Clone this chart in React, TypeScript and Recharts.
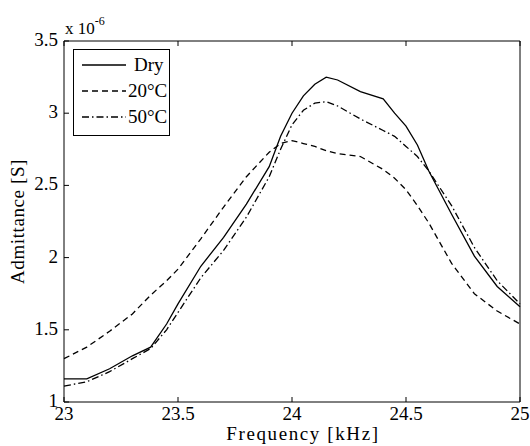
import { LineChart, Line, XAxis, YAxis } from "recharts";

const freq = [23, 23.1, 23.2, 23.3, 23.38, 23.45, 23.5, 23.6, 23.7, 23.8, 23.9, 23.95, 24, 24.05, 24.1, 24.15, 24.2, 24.3, 24.4, 24.45, 24.5, 24.55, 24.6, 24.7, 24.8, 24.9, 25];
const dry = [1.16, 1.16, 1.23, 1.32, 1.38, 1.54, 1.68, 1.94, 2.14, 2.37, 2.63, 2.84, 3.0, 3.12, 3.2, 3.25, 3.23, 3.15, 3.1, 3.0, 2.91, 2.78, 2.6, 2.3, 2.01, 1.8, 1.66];
const c20 = [1.3, 1.38, 1.49, 1.61, 1.74, 1.84, 1.92, 2.13, 2.35, 2.56, 2.73, 2.79, 2.81, 2.79, 2.77, 2.74, 2.72, 2.7, 2.61, 2.55, 2.47, 2.36, 2.24, 1.96, 1.75, 1.63, 1.54];
const c50 = [1.11, 1.14, 1.21, 1.3, 1.37, 1.5, 1.62, 1.86, 2.05, 2.28, 2.56, 2.75, 2.92, 3.02, 3.07, 3.08, 3.05, 2.96, 2.88, 2.84, 2.77, 2.7, 2.6, 2.36, 2.07, 1.84, 1.68];

const xTicks = [23, 23.5, 24, 24.5, 25];
const yTicks = [1, 1.5, 2, 2.5, 3, 3.5];

const series = [
  { key: "dry", name: "Dry", dash: undefined },
  { key: "c20", name: "20°C", dash: "6 4" },
  { key: "c50", name: "50°C", dash: "7 3 1.5 3" },
];

const data = freq.map((f, i) => ({ f, dry: dry[i], c20: c20[i], c50: c50[i] }));

const FONT = '"Liberation Serif", "Times New Roman", serif';
const TICK = 5;

function BottomTick({ x, y, payload }: any) {
  return (
    <g>
      <line x1={x} y1={y} x2={x} y2={y - TICK} stroke="#000" />
      <text x={x} y={y + 18} textAnchor="middle" fontSize={19} fontFamily={FONT} fill="#000">
        {payload.value}
      </text>
    </g>
  );
}

function TopTick({ x, y }: any) {
  return <line x1={x} y1={y} x2={x} y2={y + TICK} stroke="#000" />;
}

function LeftTick({ x, y, payload }: any) {
  return (
    <g>
      <line x1={x} y1={y} x2={x + TICK} y2={y} stroke="#000" />
      <text x={x - 6} y={y + 5} textAnchor="end" fontSize={19} fontFamily={FONT} fill="#000">
        {payload.value}
      </text>
    </g>
  );
}

function RightTick({ x, y }: any) {
  return <line x1={x} y1={y} x2={x - TICK} y2={y} stroke="#000" />;
}

function LegendBox() {
  return (
    <div
      style={{
        position: "absolute",
        left: 73,
        top: 49,
        border: "1px solid #000",
        background: "#fff",
        width: 95,
        padding: "2px 0 5px 0",
        fontFamily: FONT,
        fontSize: 19,
        lineHeight: "20px",
        color: "#000",
      }}
    >
      {series.map((s) => (
        <div key={s.key} style={{ display: "flex", alignItems: "center", height: 26 }}>
          <svg width={54} height={10}>
            <line x1={8} y1={5} x2={52} y2={5} stroke="#000" strokeWidth={1.3} strokeDasharray={s.dash} />
          </svg>
          <span style={{ marginLeft: s.key === "dry" ? 6 : 0 }}>{s.name}</span>
        </div>
      ))}
    </div>
  );
}

export default function App() {
  return (
    <div style={{ position: "absolute", left: 0, top: 0, width: 530, height: 446, background: "#fff" }}>
      <LineChart width={530} height={446} data={data} margin={{ top: 40, right: 9, bottom: 0, left: 0 }}>
        <XAxis
          dataKey="f"
          type="number"
          domain={[23, 25]}
          ticks={xTicks}
          height={44}
          tickLine={false}
          tickSize={0}
          tickMargin={0}
          axisLine={{ stroke: "#000" }}
          tick={<BottomTick />}
          interval={0}
          label={(p: any) => {
            const vb = p.viewBox;
            return (
              <text x={vb.x + vb.width / 2 + 11} y={vb.y + 38} textAnchor="middle" fontSize={19} letterSpacing={1.6} fontFamily={FONT} fill="#000">
                Frequency [kHz]
              </text>
            );
          }}
        />
        <XAxis
          xAxisId="top"
          orientation="top"
          dataKey="f"
          type="number"
          domain={[23, 25]}
          ticks={xTicks}
          height={1}
          tickLine={false}
          tickSize={0}
          tickMargin={0}
          axisLine={{ stroke: "#000" }}
          tick={<TopTick />}
          interval={0}
          label={(p: any) => {
            const vb = p.viewBox;
            return (
              <text x={vb.x + 1} y={vb.y - 6} fontSize={17} fontFamily={FONT} fill="#000">
                x 10
                <tspan dy={-9} fontSize={12}>-6</tspan>
              </text>
            );
          }}
        />
        <YAxis
          type="number"
          domain={[1, 3.5]}
          ticks={yTicks}
          width={64}
          tickLine={false}
          tickSize={0}
          tickMargin={0}
          axisLine={{ stroke: "#000" }}
          tick={<LeftTick />}
          interval={0}
          label={(p: any) => {
            const vb = p.viewBox;
            const cx = vb.x + 20;
            const cy = vb.y + vb.height / 2;
            return (
              <text x={cx} y={cy} transform={`rotate(-90 ${cx} ${cy})`} textAnchor="middle" dominantBaseline="middle" fontSize={19} letterSpacing={0.6} fontFamily={FONT} fill="#000">
                Admittance [S]
              </text>
            );
          }}
        />
        <YAxis
          yAxisId="right"
          orientation="right"
          type="number"
          domain={[1, 3.5]}
          ticks={yTicks}
          width={1}
          tickLine={false}
          tickSize={0}
          tickMargin={0}
          axisLine={{ stroke: "#000" }}
          tick={<RightTick />}
          interval={0}
        />
        {series.map((s) => (
          <Line
            key={s.key}
            dataKey={s.key}
            name={s.name}
            type="linear"
            stroke="#000"
            strokeWidth={1.3}
            strokeDasharray={s.dash}
            dot={false}
            isAnimationActive={false}
          />
        ))}
      </LineChart>
      <LegendBox />
    </div>
  );
}
